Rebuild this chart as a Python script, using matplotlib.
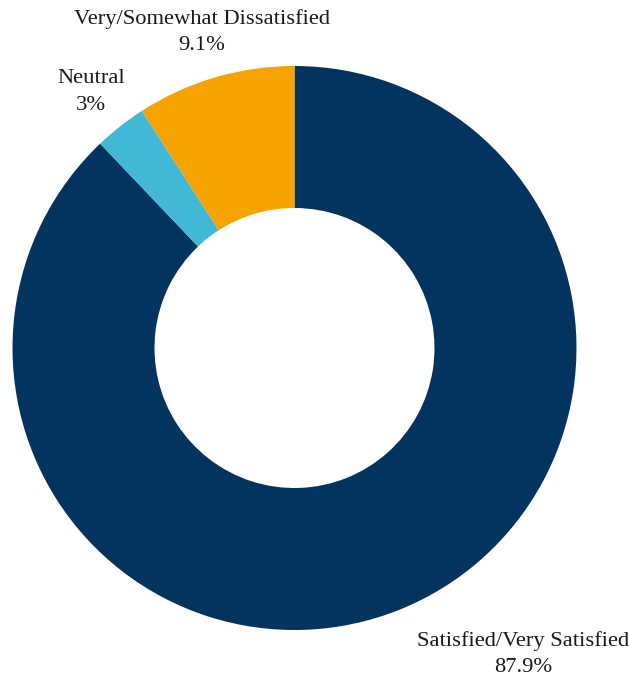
import matplotlib
matplotlib.use("Agg")
import matplotlib.pyplot as plt

categories = ["Satisfied/Very Satisfied", "Neutral", "Very/Somewhat Dissatisfied"]
values = [87.9, 3.0, 9.1]
value_labels = ["87.9%", "3%", "9.1%"]
colors = ["#03335f", "#42b8d7", "#f6a300"]

W, H = 629, 684
fig = plt.figure(figsize=(W / 100, H / 100), dpi=100)
ax = fig.add_axes([0, 0, 1, 1])

cx, cy = 294.5, H - 348
R = 282
ax.pie(values, colors=colors, startangle=90, counterclock=False,
       radius=R, center=(cx, cy), frame=True,
       wedgeprops=dict(width=142, edgecolor="none", linewidth=0))
ax.set_xlim(0, W)
ax.set_ylim(0, H)
ax.set_aspect("equal")
ax.axis("off")

label_pos = [(523, H - 654), (91, H - 92), (202, H - 32)]
for cat, vl, (x, y) in zip(categories, value_labels, label_pos):
    ax.text(x, y, f"{cat}\n{vl}", ha="center", va="center",
            fontsize=16.2, family="Liberation Serif", color="#1a1a1a",
            linespacing=1.55)

fig.savefig("out.png", dpi=100)
